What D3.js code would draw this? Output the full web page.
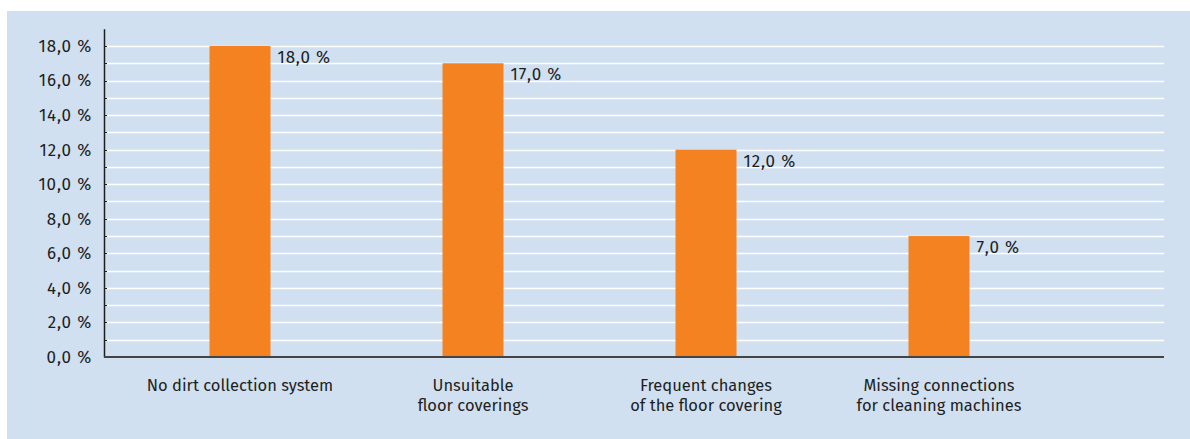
<!DOCTYPE html>
<html>
<head>
<meta charset="utf-8">
<script src="https://cdn.jsdelivr.net/npm/d3@7"></script>
<style>
  body { margin: 0; background: #ffffff; }
  svg text { font-family: "Fira Sans", "Noto Sans", sans-serif; fill: #1e1e1e; }
</style>
</head>
<body>
<svg id="chart"></svg>
<script>
var categories = [
    ["No dirt collection system"],
    ["Unsuitable", "floor coverings"],
    ["Frequent changes", "of the floor covering"],
    ["Missing connections", "for cleaning machines"]
];
var values = [18.0, 17.0, 12.0, 7.0];
var tickValues = [0, 2, 4, 6, 8, 10, 12, 14, 16, 18];
var gridValues = d3.range(1, 19);

var options = {
    width: 1190,
    height: 439,
    panelX: 7,
    panelY: 11,
    axisX: 104,
    plotRight: 1164,
    baseY: 357,
    topY: 28.7,
    barWidth: 61,
    fontSize: 17,
    catFontSize: 16.5,
    catLineGap: 20,
    numSpacing: 0.8
};

var fmt = function(v) { return v.toFixed(1).replace('.', ',') + ' %'; };

var svg = d3.select('#chart')
    .attr('width', options.width)
    .attr('height', options.height);

svg.append('rect')
    .attr('x', options.panelX)
    .attr('y', options.panelY)
    .attr('width', options.width - options.panelX)
    .attr('height', options.height - options.panelY)
    .style('fill', '#d0e0f1');

var yScale = d3.scaleLinear().domain([0, 19]).range([options.baseY, options.topY]);
var xScale = d3.scalePoint()
    .domain(d3.range(categories.length))
    .range([123.5, 1055.5])
    .padding(0.5);

// gridlines
svg.append('g').selectAll('line')
    .data(gridValues)
    .enter()
    .append('line')
    .attr('x1', options.axisX)
    .attr('x2', options.plotRight)
    .attr('y1', function(d){ return Math.round(yScale(d)) + 0.5; })
    .attr('y2', function(d){ return Math.round(yScale(d)) + 0.5; })
    .style('stroke', '#ffffff')
    .style('stroke-width', 1.5);

// small tick marks on the axis
svg.append('g').selectAll('line')
    .data(gridValues)
    .enter()
    .append('line')
    .attr('x1', options.axisX)
    .attr('x2', options.axisX + 3)
    .attr('y1', function(d){ return Math.round(yScale(d)) + 0.5; })
    .attr('y2', function(d){ return Math.round(yScale(d)) + 0.5; })
    .style('stroke', '#1e1e1e')
    .style('stroke-width', 1);

// bars
svg.append('g').selectAll('rect')
    .data(values)
    .enter()
    .append('rect')
    .attr('x', function(d, i){ return xScale(i) - options.barWidth/2; })
    .attr('y', function(d){ return yScale(d); })
    .attr('width', options.barWidth)
    .attr('height', function(d){ return yScale(0) - yScale(d); })
    .style('fill', '#f58220');

// value labels
svg.append('g').selectAll('text')
    .data(values)
    .enter()
    .append('text')
    .attr('x', function(d, i){ return xScale(i) + options.barWidth/2 + 7; })
    .attr('y', function(d){ return yScale(d) + 17; })
    .style('font-size', options.fontSize + 'px')
    .style('letter-spacing', options.numSpacing + 'px')
    .text(fmt);

// y axis
var yAxis = d3.axisLeft(yScale).tickValues(tickValues).tickSize(0).tickPadding(12).tickFormat(fmt);
var yG = svg.append('g')
    .attr('transform', 'translate(' + options.axisX + ',0)')
    .call(yAxis);
yG.select('.domain').style('stroke', '#1e1e1e').style('stroke-width', 1.5);
yG.selectAll('text').style('font-size', options.fontSize + 'px').style('fill', '#1e1e1e')
    .style('letter-spacing', options.numSpacing + 'px')
    .style('font-family', '"Fira Sans", "Noto Sans", sans-serif');

// x axis line
svg.append('line')
    .attr('x1', options.axisX)
    .attr('x2', options.plotRight)
    .attr('y1', options.baseY)
    .attr('y2', options.baseY)
    .style('stroke', '#444444')
    .style('stroke-width', 2);

// category labels, one text per line
categories.forEach(function(lines, i){
    svg.append('g').selectAll('text')
        .data(lines)
        .enter()
        .append('text')
        .attr('x', xScale(i))
        .attr('y', function(d, j){ return 391 + j*options.catLineGap; })
        .style('text-anchor', 'middle')
        .style('font-size', options.catFontSize + 'px')
        .text(function(d){ return d; });
});
</script>
</body>
</html>
